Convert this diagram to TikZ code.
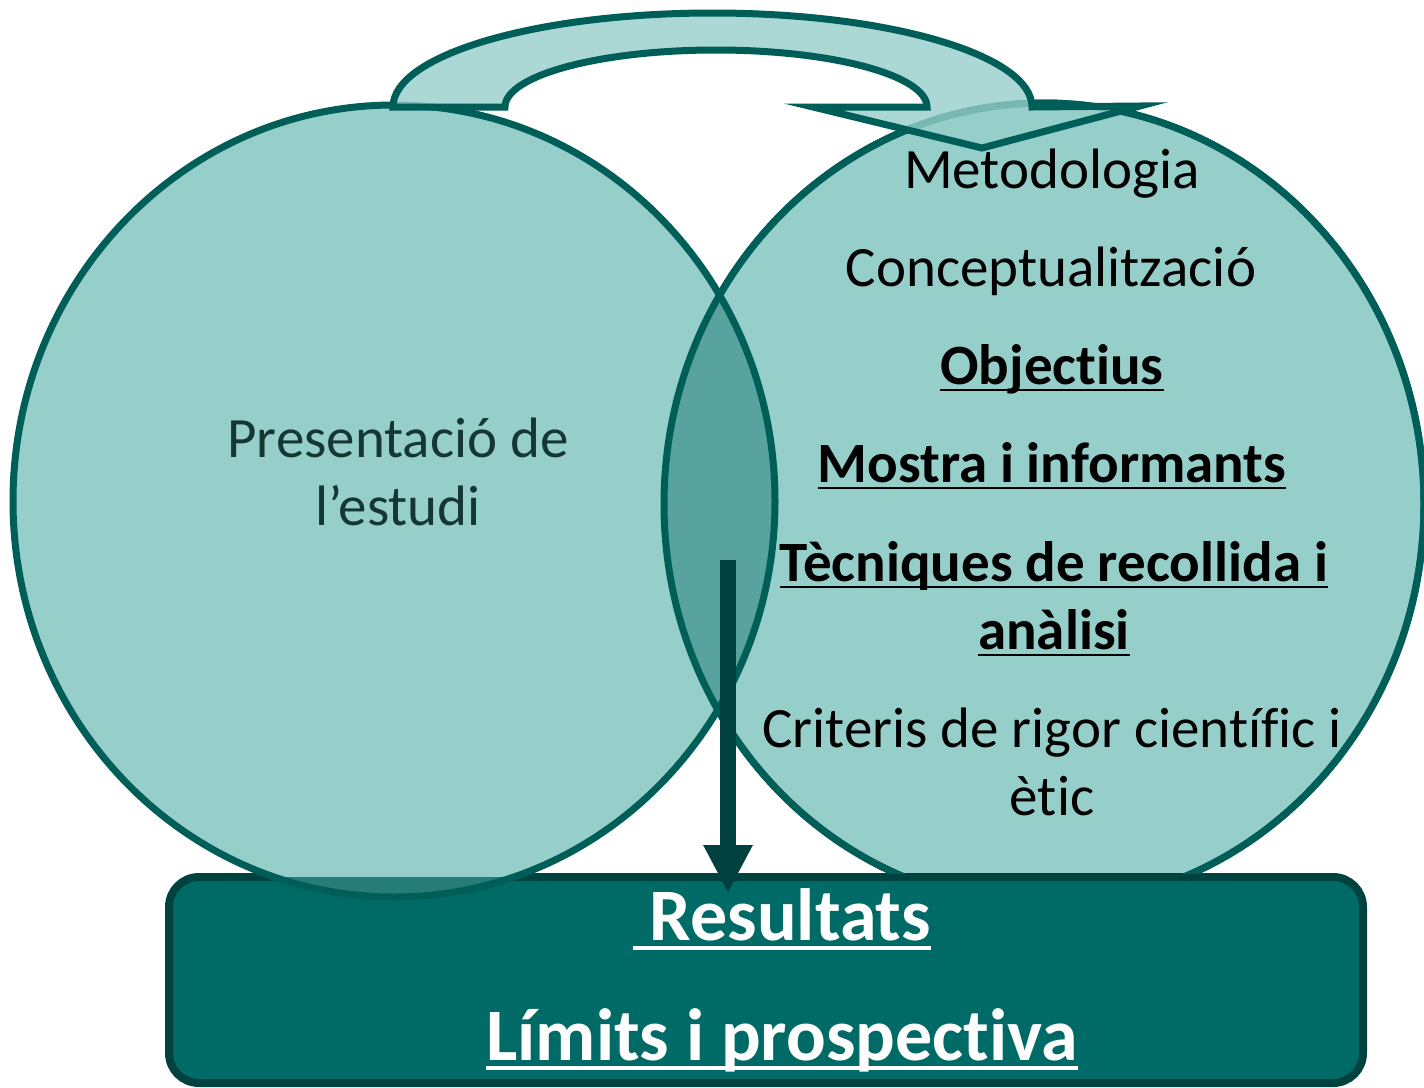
\documentclass[tikz,border=0pt]{standalone}
\usepackage{fontspec}
\setmainfont{Carlito}[Ligatures=NoCommon]
\usetikzlibrary{arrows.meta}
\definecolor{edgecol}{RGB}{0,94,89}
\definecolor{fillcol}{RGB}{150,206,201}
\definecolor{lenscol}{RGB}{88,163,157}
\definecolor{boxfill}{RGB}{0,107,102}
\definecolor{boxedge}{RGB}{0,66,63}
\definecolor{overcol}{RGB}{38,125,119}
\definecolor{arrowcol}{RGB}{0,64,62}
\definecolor{lefttext}{RGB}{20,55,52}
\newcommand\myul[1]{\setbox0\hbox{#1}\rlap{\rule[-0.13em]{\wd0}{0.05em}}\box0}
\begin{document}
\begin{tikzpicture}[x=1pt,y=-1pt,
  txt/.style={font=\fontsize{57}{68}\selectfont, align=center, inner sep=0pt, anchor=base},
  txtb/.style={font=\fontsize{57}{68}\selectfont\bfseries, align=center, inner sep=0pt, anchor=base},
  restxt/.style={font=\fontsize{74}{88}\selectfont\bfseries, text=white, inner sep=0pt, anchor=base},
  circedge/.style={draw=edgecol, line width=7},
  boxstyle/.style={draw=boxedge, fill=boxfill, line width=8, rounded corners=30, minimum width=1194, minimum height=206, inner sep=0pt}]
\useasboundingbox (0,0) rectangle (1424,1087);
% right circle (behind box)
\fill[fillcol] (1044,504) ellipse [x radius=380, y radius=401];
\draw[circedge] (1044,504) ellipse [x radius=380, y radius=401];
% result box
\node[boxstyle] (box) at (766,980) {};
% left circle (in front of box)
\fill[fillcol] (394,501) ellipse [x radius=381, y radius=396];
\begin{scope}
  \clip (169,877) rectangle (1363,1083);
  \fill[overcol] (394,501) ellipse [x radius=381, y radius=396];
\end{scope}
% lens
\begin{scope}
  \clip (394,501) ellipse [x radius=381, y radius=396];
  \fill[lenscol] (1044,504) ellipse [x radius=380, y radius=401];
\end{scope}
\begin{scope}
  \clip (600,0) rectangle (1424,873);
  \draw[circedge] (1044,504) ellipse [x radius=380, y radius=401];
\end{scope}
\draw[circedge] (394,501) ellipse [x radius=381, y radius=396];
% curved block arrow
\draw[draw=edgecol, line width=7, fill=fillcol, fill opacity=0.8]
  (393,107) arc[start angle=180, end angle=360, x radius=319.5, y radius=94]
  -- (1140,106) -- (982,148) -- (813,107) -- (927,107)
  arc[start angle=0, end angle=-180, x radius=211, y radius=57] -- cycle;
% vertical arrow
\coordinate (lensdot) at (728,560);
\coordinate (boxtip) at (728,893);
\draw[arrowcol, line width=16, -{Triangle[length=48pt, width=46pt]}] (lensdot) -- (boxtip);
% texts
\node[txt] (met) at (1052,188) {Metodologia};
\node[txt] (con) at (1051,286) {Conceptualització};
\node[txtb] (obj) at (1052,384) {\myul{Objectius}};
\node[txtb] (mos) at (1052,482) {\myul{Mostra i informants}};
\node[txtb] (tec) at (1054,649) {\myul{Tècniques de recollida i}\\\myul{anàlisi}};
\node[txt] (cri) at (1052,815) {Criteris de rigor científic i\\ètic};
\node[txt, text=lefttext] (pre) at (398,525) {Presentació de\\l’estudi};
\node[restxt] (res) at (782,940) {\myul{\ Resultats}};
\node[restxt] (lim) at (782,1060) {\myul{Límits i prospectiva}};
\end{tikzpicture}
\end{document}
